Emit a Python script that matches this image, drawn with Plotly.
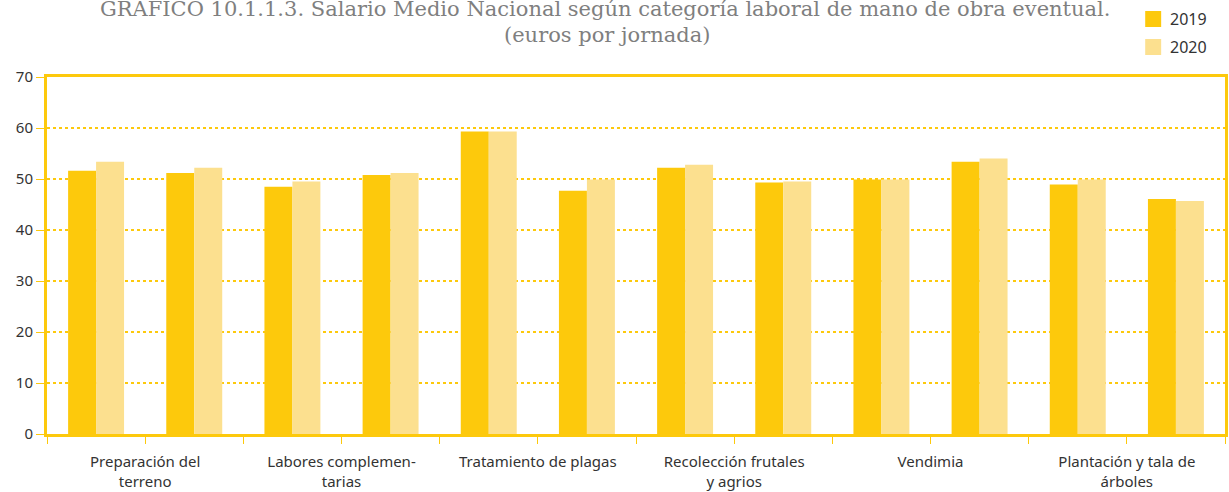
import plotly.graph_objects as go

# one entry per bar group; each label sits between two groups
labels = [
    "Preparación del<br>terreno",
    "Labores complemen-<br>tarias",
    "Tratamiento de plagas",
    "Recolección frutales<br>y agrios",
    "Vendimia",
    "Plantación y tala de<br>árboles",
]
salario_2019 = [51.6, 51.2, 48.5, 50.8, 59.3, 47.7, 52.2, 49.3, 49.9, 53.4, 48.9, 46.1]
salario_2020 = [53.4, 52.2, 49.5, 51.2, 59.3, 49.9, 52.8, 49.5, 49.9, 54.0, 49.9, 45.7]
series_names = ["2019", "2020"]
y_ticks = [0, 10, 20, 30, 40, 50, 60, 70]

YELLOW = "#fdc90c"
PALE = "#fce08f"
TEXT = "#333333"
COLORS = [YELLOW, PALE]

WIDTH, HEIGHT = 1229, 492
PLOT_LEFT, PLOT_RIGHT, PLOT_TOP, PLOT_BOTTOM = 47, 1228, 77, 434


def px_x(px):
    return (px - PLOT_LEFT) / (PLOT_RIGHT - PLOT_LEFT)


def px_y(py):
    return (PLOT_BOTTOM - py) / (PLOT_BOTTOM - PLOT_TOP)


positions = list(range(len(salario_2019)))

fig = go.Figure()
for name, values, color in zip(series_names, [salario_2019, salario_2020], COLORS):
    fig.add_trace(go.Bar(x=positions, y=values, name=name, marker={"color": color, "line": {"width": 0}}))

# ticks at every group boundary, text only at every second boundary
tick_vals = [i - 0.5 for i in range(len(positions) + 1)]
tick_text = [""] * len(tick_vals)
for index, label in enumerate(labels):
    tick_text[2 * index + 1] = label

axis_font = {"family": "Noto Sans", "size": 15, "color": TEXT}
fig.update_xaxes(
    range=[-0.5, len(positions) - 0.5],
    tickvals=tick_vals,
    ticktext=tick_text,
    ticks="outside",
    ticklen=7,
    tickcolor=YELLOW,
    tickwidth=1,
    ticklabelstandoff=5,
    showline=True,
    linecolor=YELLOW,
    linewidth=3,
    mirror=True,
    showgrid=False,
    tickfont=axis_font,
    tickangle=0,
)
fig.update_yaxes(
    range=[0, 70],
    tickvals=y_ticks,
    ticks="outside",
    ticklen=8,
    tickcolor=YELLOW,
    tickwidth=1,
    showline=True,
    linecolor=YELLOW,
    linewidth=3,
    mirror=True,
    showgrid=True,
    gridcolor=YELLOW,
    gridwidth=2,
    griddash="dot",
    zeroline=False,
    tickfont=axis_font,
)

title_font = {"family": "DejaVu Serif", "size": 21, "color": "#7f7f7f"}
fig.add_annotation(
    text="GRÁFICO 10.1.1.3. Salario Medio Nacional según categoría laboral de mano de obra eventual.",
    xref="paper", yref="paper", x=px_x(606), y=px_y(9), yanchor="middle",
    showarrow=False, font=title_font,
)
fig.add_annotation(
    text="(euros por jornada)",
    xref="paper", yref="paper", x=px_x(608), y=px_y(35), yanchor="middle",
    showarrow=False, font=title_font,
)

# legend drawn as squares plus text, matching the reference's 16px swatches
for index, (name, color) in enumerate(zip(series_names, COLORS)):
    top = 11 + 28 * index
    fig.add_shape(
        type="rect", xref="paper", yref="paper",
        x0=px_x(1148), x1=px_x(1164), y0=px_y(top + 16), y1=px_y(top),
        fillcolor=color, line={"width": 0},
    )
    fig.add_annotation(
        text=name, xref="paper", yref="paper", x=px_x(1171), y=px_y(top + 8),
        xanchor="left", yanchor="middle", showarrow=False,
        font={"family": "Noto Sans", "size": 16, "color": TEXT},
    )

fig.update_layout(
    width=WIDTH,
    height=HEIGHT,
    margin={"l": PLOT_LEFT, "r": WIDTH - PLOT_RIGHT, "t": PLOT_TOP, "b": HEIGHT - PLOT_BOTTOM},
    paper_bgcolor="white",
    plot_bgcolor="white",
    barmode="group",
    bargap=0.43,
    bargroupgap=0,
    showlegend=False,
    hovermode=False,
)

fig.write_html(
    "out.html",
    config={"responsive": False, "displayModeBar": False},
    post_script="document.body.style.margin='0';document.body.style.overflow='hidden';",
)
